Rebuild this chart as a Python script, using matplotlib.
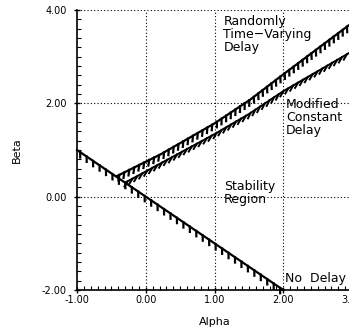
import matplotlib
matplotlib.use('Agg')
from matplotlib import pyplot as plt
from matplotlib import patheffects
from matplotlib.ticker import MultipleLocator, FormatStrFormatter
import numpy as np

# boundary curves (alpha, beta)
no_delay_alpha = [-1.0, 2.0]
no_delay_beta = [1.0, -2.0]

random_alpha = [-0.42, 0.22, 1.0, 1.52, 2.0, 2.96]
random_beta = [0.44, 0.91, 1.57, 2.08, 2.62, 3.68]

modified_alpha = [-0.3, 0.3, 1.0, 1.5, 2.0, 2.96]
modified_beta = [0.3, 0.78, 1.34, 1.77, 2.26, 3.08]

xticks = [-1, 0, 1, 2, 3]
yticks = [-2, 0, 2, 4]

fig = plt.figure(figsize=(3.49, 3.32), dpi=100)
ax = fig.add_axes([77 / 349, 42 / 332, 275 / 349, 280 / 332])

ax.set_xlim(-1, 3)
ax.set_ylim(-2, 4)

# dotted grid
for x in [0, 1, 2]:
    ax.axvline(x, color='k', lw=0.8, ls=(0, (1, 2)), zorder=1)
for y in [0, 2, 4]:
    ax.axhline(y, color='k', lw=0.8, ls=(0, (1, 2)), zorder=1)

ax.plot(no_delay_alpha, no_delay_beta, color='k', lw=1.6, clip_on=False,
        path_effects=[patheffects.withTickedStroke(angle=-55, length=0.7, spacing=5.5)])
ax.plot(random_alpha, random_beta, color='k', lw=1.6,
        path_effects=[patheffects.withTickedStroke(angle=-125, length=1.0, spacing=4)])
ax.plot(modified_alpha, modified_beta, color='k', lw=1.4,
        path_effects=[patheffects.withTickedStroke(angle=-150, length=1.1, spacing=4)])

ax.spines['top'].set_visible(False)
ax.spines['right'].set_visible(False)
ax.spines['left'].set_linewidth(1.2)
ax.spines['bottom'].set_linewidth(1.2)

ax.set_xticks(xticks)
ax.set_yticks(yticks)
ax.xaxis.set_minor_locator(MultipleLocator(0.1))
ax.yaxis.set_minor_locator(MultipleLocator(0.2))
ax.xaxis.set_major_formatter(FormatStrFormatter('%.2f'))
ax.yaxis.set_major_formatter(FormatStrFormatter('%.2f'))
ax.tick_params(which='major', direction='inout', length=5, width=1, labelsize=7, pad=1)
ax.tick_params(axis='y', which='major', pad=5)
ax.tick_params(which='minor', direction='in', length=3, width=0.8)

ax.set_xlabel('Alpha', fontsize=8, labelpad=9)
ax.set_ylabel('Beta', fontsize=8, labelpad=14)

ax.text(1.13, 3.9, 'Randomly\nTime\u2212Varying\nDelay', fontsize=9, va='top', linespacing=1.0)
ax.text(2.04, 2.12, 'Modified\nConstant\nDelay', fontsize=9, va='top', linespacing=1.0)
ax.text(1.14, 0.35, 'Stability\nRegion', fontsize=9, va='top', linespacing=1.0)
ax.text(2.03, -1.75, 'No  Delay', fontsize=9, va='center')

plt.savefig('out.png', dpi=100)
